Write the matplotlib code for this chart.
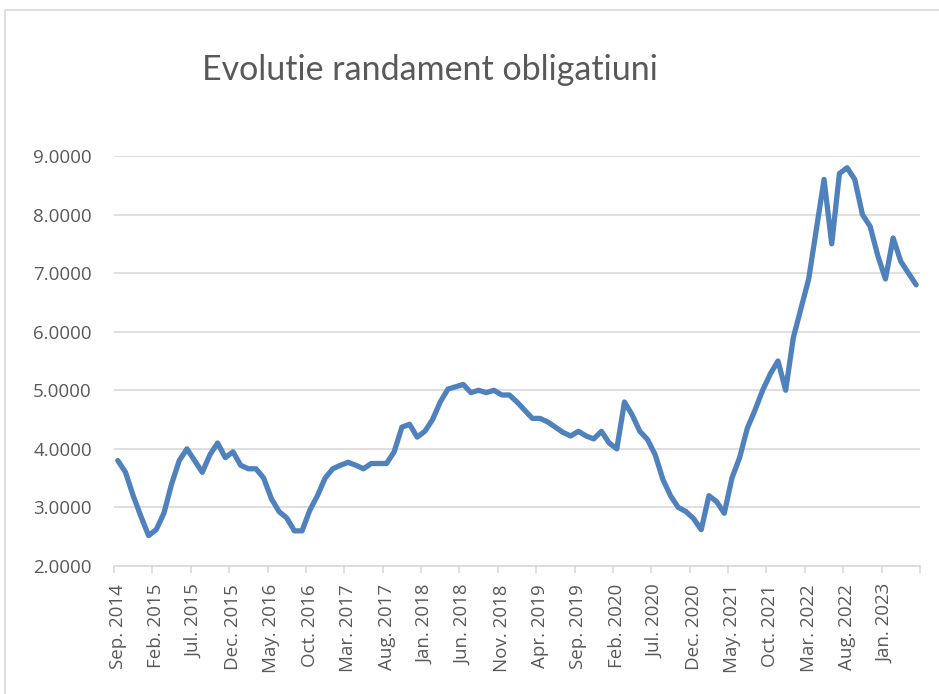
import matplotlib.pyplot as plt
import matplotlib.patches as patches
import numpy as np

# monthly yields, Sep. 2014 .. May. 2023
yields = [3.80, 3.60, 3.20, 2.85, 2.52, 2.62, 2.90, 3.40, 3.80, 4.00,
          3.80, 3.60, 3.90, 4.10, 3.85, 3.95, 3.72, 3.66, 3.66, 3.50,
          3.15, 2.93, 2.82, 2.60, 2.60, 2.95, 3.20, 3.50, 3.66, 3.72,
          3.77, 3.72, 3.66, 3.75, 3.75, 3.75, 3.95, 4.37, 4.42, 4.20,
          4.30, 4.50, 4.80, 5.02, 5.06, 5.10, 4.96, 5.00, 4.96, 5.00,
          4.92, 4.92, 4.80, 4.66, 4.52, 4.52, 4.46, 4.37, 4.28, 4.22,
          4.30, 4.22, 4.17, 4.30, 4.10, 4.00, 4.80, 4.58, 4.30, 4.16,
          3.90, 3.48, 3.20, 3.00, 2.93, 2.81, 2.62, 3.20, 3.10, 2.90,
          3.50, 3.85, 4.35, 4.66, 5.00, 5.28, 5.50, 5.00, 5.90, 6.40,
          6.90, 7.75, 8.60, 7.50, 8.70, 8.80, 8.60, 8.00, 7.80, 7.30,
          6.90, 7.60, 7.20, 7.00, 6.80]

tick_labels = ["Sep. 2014", "Feb. 2015", "Jul. 2015", "Dec. 2015", "May. 2016",
               "Oct. 2016", "Mar. 2017", "Aug. 2017", "Jan. 2018", "Jun. 2018",
               "Nov. 2018", "Apr. 2019", "Sep. 2019", "Feb. 2020", "Jul. 2020",
               "Dec. 2020", "May. 2021", "Oct. 2021", "Mar. 2022", "Aug. 2022",
               "Jan. 2023"]

y_ticks = [2, 3, 4, 5, 6, 7, 8, 9]

text_color = "#595959"
grid_color = "#d9d9d9"

fig = plt.figure(figsize=(9.39, 6.94), dpi=100)
fig.patches.append(patches.Rectangle((5 / 939, -0.1), 1.1, 1 - 10 / 694 + 0.1,
                                     transform=fig.transFigure, fill=False,
                                     edgecolor=grid_color, linewidth=1.2))

ax = fig.add_axes([114 / 939, 1 - 566 / 694, 806 / 939, 410 / 694])

x = np.arange(len(yields))
ax.plot(x, yields, color="#4F81BD", linewidth=3.8, solid_joinstyle="round",
        solid_capstyle="round")

ax.set_xlim(-0.5, len(yields) - 0.5)
ax.set_ylim(2, 9)

ax.set_yticks(y_ticks)
ax.set_yticklabels([f"{v:.4f}" for v in y_ticks])
ax.grid(axis="y", color=grid_color, linewidth=1.2)
ax.set_axisbelow(True)

ax.set_xticks(np.arange(-0.5, len(yields), 5))
ax.set_xticklabels([])
ax.set_xticks(np.arange(0, len(yields), 5), minor=True)
ax.set_xticklabels(tick_labels, minor=True, rotation=90)

ax.tick_params(axis="x", which="major", length=5, color=grid_color, width=1.2)
ax.tick_params(axis="x", which="minor", length=0, pad=13,
               labelsize=13.5, labelcolor=text_color)
ax.tick_params(axis="y", length=0, pad=16, labelsize=13.5, labelcolor=text_color)
for lab in ax.get_xticklabels(minor=True) + ax.get_yticklabels():
    lab.set_family("Open Sans")

for side in ["top", "right", "left"]:
    ax.spines[side].set_visible(False)
ax.spines["bottom"].set_color(grid_color)
ax.spines["bottom"].set_linewidth(1.2)

fig.text(430 / 939, 1 - 70 / 694, "Evolutie randament obligatiuni",
         ha="center", va="center", fontsize=24.5, color=text_color,
         family="Lato")

fig.savefig("out.png", dpi=100)
